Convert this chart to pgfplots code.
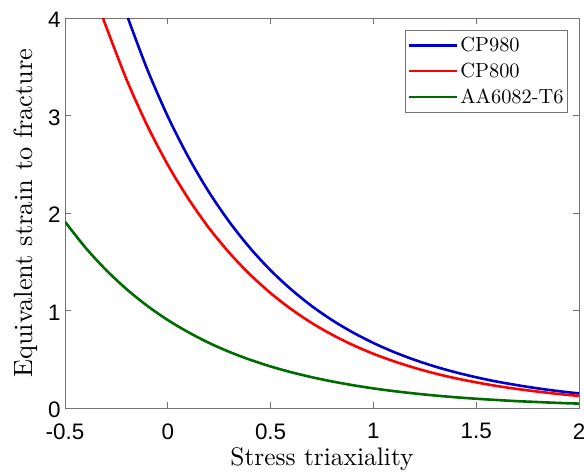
\documentclass[border=0pt]{standalone}
\usepackage{fontspec}
\setmainfont{lmroman10-regular.otf}
\usepackage{pgfplots}
\pgfplotsset{compat=1.18}
\newfontfamily\arial{Liberation Sans}
\definecolor{cpblue}{rgb}{0,0,0.8}
\definecolor{cpred}{rgb}{1,0,0}
\definecolor{aagreen}{rgb}{0,0.42,0}
\begin{document}
\begin{tikzpicture}
\begin{axis}[
  scale only axis,
  width=514bp, height=390bp,
  xmin=-0.5, xmax=2, ymin=0, ymax=4,
  xtick={-0.5,0,0.5,1,1.5,2},
  xticklabels={-0.5,0,0.5,1,1.5,2},
  ytick={0,1,2,3,4},
  yticklabels={0,1,2,3,4},
  tick align=inside,
  major tick length=6bp,
  axis line style={black!55, line width=0.7bp},
  tick style={black!55, line width=0.7bp},
  tick label style={font=\arial\fontsize{22.5}{22.5}\selectfont, text=black},
  xticklabel style={yshift=-12bp},
  yticklabel style={xshift=-1bp, yshift=-2bp},
  xlabel={Stress triaxiality},
  ylabel={Equivalent strain to fracture},
  xlabel style={font=\fontsize{25.5}{26}\selectfont, yshift=-1bp},
  ylabel style={font=\fontsize{26.5}{27}\selectfont, yshift=4bp},
  legend style={at={(1,1)}, anchor=north east, xshift=-11bp, yshift=-12bp,
    draw=black!55, line width=0.7bp, font=\fontsize{20.5}{21}\selectfont,
    inner xsep=2bp, inner ysep=5bp, row sep=6bp},
  legend cell align=left,
  legend image code/.code={\draw[#1] (0bp,0bp) -- (48bp,0bp);},
]
\addplot[cpblue, line width=2.6bp, smooth] coordinates {
(-0.194,4.000) (-0.1,3.474) (0,2.990) (0.1,2.574) (0.2,2.215) (0.3,1.907)
(0.4,1.641) (0.5,1.412) (0.6,1.216) (0.7,1.046) (0.8,0.900) (0.9,0.775)
(1.0,0.667) (1.1,0.574) (1.2,0.494) (1.3,0.425) (1.4,0.366) (1.5,0.315)
(1.6,0.271) (1.7,0.234) (1.8,0.201) (1.9,0.173) (2.0,0.149)};
\addlegendentry{CP980}
\addplot[cpred, line width=2.6bp, smooth] coordinates {
(-0.315,4.000) (-0.3,3.911) (-0.2,3.366) (-0.1,2.897) (0,2.494) (0.1,2.147)
(0.2,1.847) (0.3,1.590) (0.4,1.369) (0.5,1.178) (0.6,1.014) (0.7,0.872)
(0.8,0.751) (0.9,0.646) (1.0,0.556) (1.1,0.479) (1.2,0.412) (1.3,0.354)
(1.4,0.305) (1.5,0.263) (1.6,0.226) (1.7,0.195) (1.8,0.168) (1.9,0.144) (2.0,0.124)};
\addlegendentry{CP800}
\addplot[aagreen, line width=2.6bp, smooth] coordinates {
(-0.5,1.910) (-0.4,1.644) (-0.3,1.415) (-0.2,1.218) (-0.1,1.048) (0,0.902)
(0.1,0.777) (0.2,0.668) (0.3,0.575) (0.4,0.495) (0.5,0.426) (0.6,0.367)
(0.7,0.316) (0.8,0.272) (0.9,0.234) (1.0,0.201) (1.1,0.173) (1.2,0.149)
(1.3,0.128) (1.4,0.110) (1.5,0.095) (1.6,0.082) (1.7,0.070) (1.8,0.061)
(1.9,0.052) (2.0,0.045)};
\addlegendentry{AA6082-T6}
\end{axis}
\pgfresetboundingbox
\path ([shift={(-65bp,-67bp)}]current axis.south west) rectangle ([shift={(5bp,18bp)}]current axis.north east);
\end{tikzpicture}
\end{document}
